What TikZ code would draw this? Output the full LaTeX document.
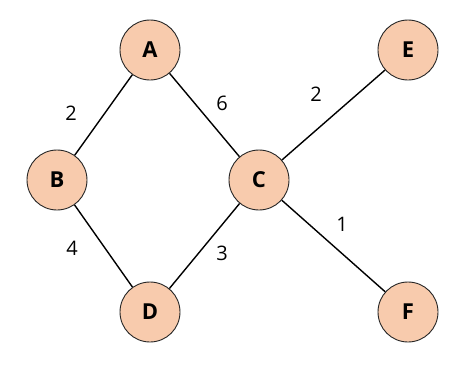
\documentclass[tikz,border=0pt]{standalone}
\usepackage{fontspec}
\setmainfont{Open Sans}
\definecolor{peach}{HTML}{F8CBAD}
\begin{document}
\begin{tikzpicture}[x=1pt, y=-1pt,
  vert/.style={circle, fill=peach, draw=black!85, line width=0.9pt,
               minimum size=60pt, inner sep=0pt,
               font=\fontsize{22}{26}\selectfont\bfseries},
  edge/.style={black, line width=1.4pt},
  wt/.style={font=\fontsize{20}{24}\selectfont}]
\useasboundingbox (0,0) rectangle (472,367);
% ---- vertices ----
\node[vert] (A) at (150,50)  {A};
\node[vert] (B) at (57,180)  {B};
\node[vert] (C) at (259,180) {C};
\node[vert] (D) at (150,312) {D};
\node[vert] (E) at (408,50)  {E};
\node[vert] (F) at (408,312) {F};
% ---- edges ----
\draw[edge] (A) -- (B);
\draw[edge] (A) -- (C);
\draw[edge] (B) -- (D);
\draw[edge] (D) -- (C);
\draw[edge] (C) -- (E);
\draw[edge] (C) -- (F);
% ---- weights ----
\node[wt] (wAB) at (71,113)  {2};
\node[wt] (wAC) at (222,103) {6};
\node[wt] (wCE) at (316,94)  {2};
\node[wt] (wBD) at (72,248)  {4};
\node[wt] (wDC) at (222,253) {3};
\node[wt] (wCF) at (342,224) {1};
\end{tikzpicture}
\end{document}
